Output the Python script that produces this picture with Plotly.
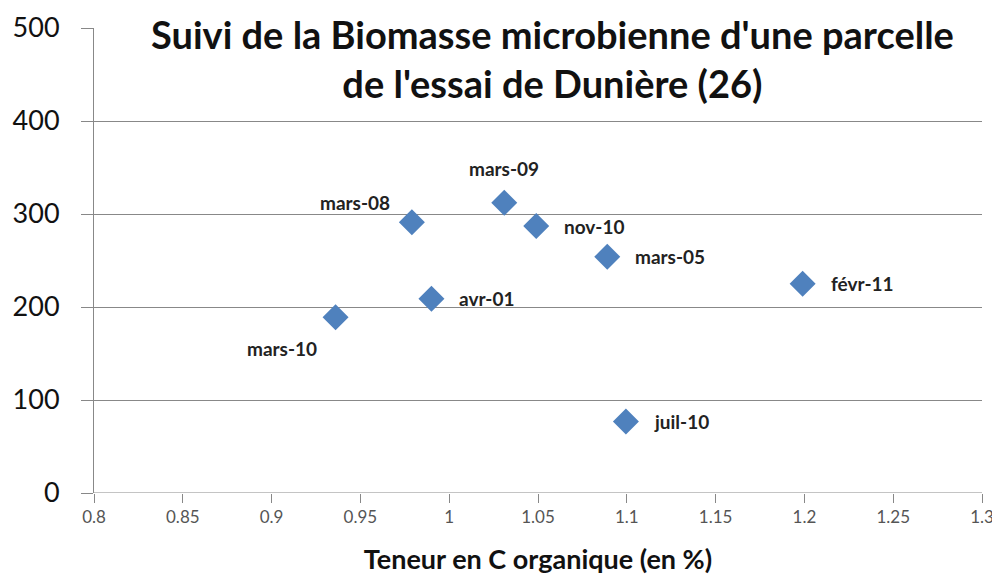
import plotly.graph_objects as go

labels = ["mars-10", "avr-01", "mars-08", "mars-09", "nov-10", "mars-05", "févr-11", "juil-10"]
carbon = [0.936, 0.990, 0.979, 1.031, 1.049, 1.089, 1.199, 1.0995]
biomass = [189, 209, 291, 312, 287, 254, 225, 77]
# label placement relative to marker: (xanchor, xshift, yshift)
label_place = [("center", -54, -31), ("left", 26, 0), ("right", -20, 20), ("center", 0, 34),
               ("left", 26, 0), ("left", 26, 0), ("left", 26, 0), ("left", 26, 0)]

x_ticks = [0.8, 0.85, 0.9, 0.95, 1, 1.05, 1.1, 1.15, 1.2, 1.25, 1.3]
x_tick_text = ["0.8", "0.85", "0.9", "0.95", "1", "1.05", "1.1", "1.15", "1.2", "1.25", "1.3"]
y_ticks = [0, 100, 200, 300, 400, 500]

title_text = "Suivi de la Biomasse microbienne d'une parcelle<br>de l'essai de Dunière (26)"
x_title = "Teneur en C organique (en %)"

fig = go.Figure()
fig.add_trace(go.Scatter(
    x=carbon, y=biomass, mode="markers",
    marker=dict(symbol="diamond", size=20, color="#4F81BD"),
    cliponaxis=False,
    showlegend=False,
))

annotations = []
for lab, xv, yv, (anc, xs, ys) in zip(labels, carbon, biomass, label_place):
    annotations.append(dict(
        x=xv, y=yv, xref="x", yref="y", text=lab, showarrow=False,
        xanchor=anc, yanchor="middle", xshift=xs, yshift=ys,
        font=dict(family="Lato", size=19, color="#222222", weight="bold"),
    ))
annotations.append(dict(
    text=title_text, xref="paper", yref="paper", x=0.516, y=1.04,
    xanchor="center", yanchor="top", showarrow=False,
    font=dict(family="Lato", size=38, color="#111111", weight="bold"),
    bgcolor="white", align="center",
))

fig.update_layout(
    width=992, height=567,
    margin=dict(l=86, r=18, t=20, b=82),
    paper_bgcolor="white", plot_bgcolor="white",
    font=dict(family="Lato"),
    xaxis=dict(
        range=[0.8, 1.3], tickvals=x_ticks, ticktext=x_tick_text,
        showgrid=False, zeroline=False, automargin=False,
        ticks="outside", ticklen=9, tickcolor="#888888",
        tickfont=dict(family="Lato", size=17, color="#555555"),
        title=dict(text=x_title, font=dict(family="Lato", size=27, color="#111111", weight="bold"), standoff=37),
    ),
    yaxis=dict(
        range=[0, 500], tickvals=y_ticks, automargin=False,
        showgrid=True, gridcolor="#888888", gridwidth=1,
        zeroline=False, showline=True, linecolor="#888888", linewidth=1,
        ticks="outside", ticklen=12, tickcolor="#888888",
        ticklabelstandoff=16,
        tickfont=dict(family="Lato", size=27, color="#111111"),
    ),
    annotations=annotations,
)
fig.add_shape(type="line", xref="paper", yref="y", x0=0, x1=1, y0=0, y1=0,
              line=dict(color="#888888", width=1), layer="above")

fig.write_html("out.html")
